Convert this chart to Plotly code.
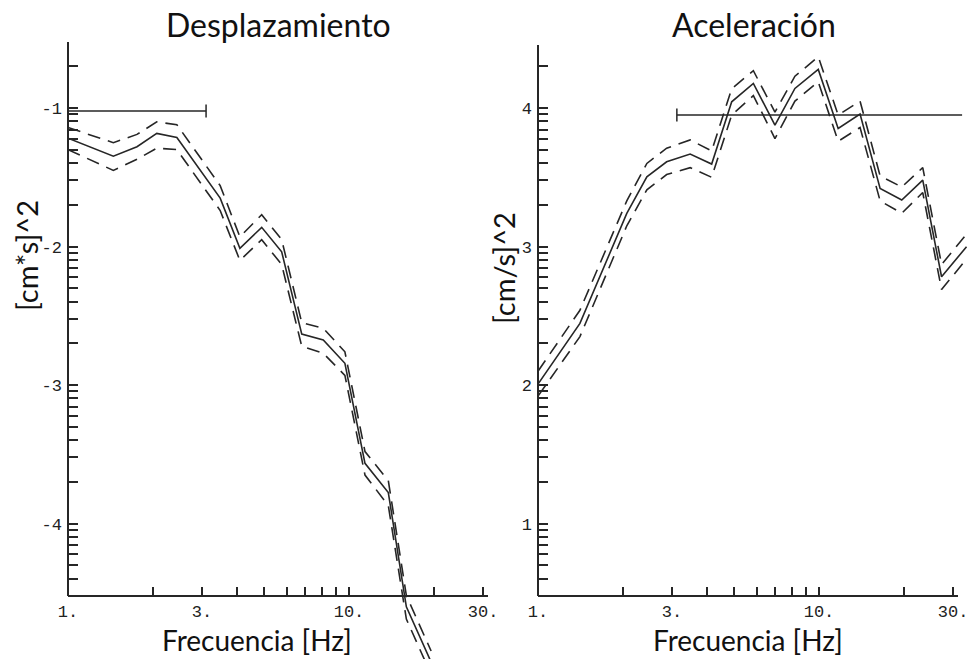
import plotly.graph_objects as go

W, H = 972, 659

# ---------------- data (log10 values, as labelled on the chart) ----------------
freq_disp = [1.0, 1.45, 1.76, 2.07, 2.44, 3.48, 4.09, 4.89, 5.76, 6.79, 8.10, 9.67, 11.4, 13.8, 16.0, 19.6]
disp_log = [-1.217, -1.347, -1.279, -1.183, -1.212, -1.650, -2.013, -1.861, -2.038, -2.632, -2.675, -2.843,
            -3.565, -3.776, -4.601, -5.000]
disp_log_hi = [-1.14, -1.25, -1.19, -1.10, -1.12, -1.56, -1.93, -1.77, -1.95, -2.55, -2.59, -2.76,
               -3.48, -3.69, -4.52, -4.92]
disp_log_lo = [-1.30, -1.45, -1.37, -1.29, -1.30, -1.74, -2.10, -1.95, -2.13, -2.72, -2.77, -2.93,
               -3.65, -3.87, -4.69, -5.09]

freq_acc = [1.0, 1.41, 2.07, 2.44, 2.87, 3.48, 4.15, 4.89, 5.84, 6.97, 8.21, 9.94, 11.7, 14.0, 16.5,
            19.7, 23.4, 27.3, 33.5]
acc_log = [2.007, 2.445, 3.240, 3.504, 3.612, 3.668, 3.596, 4.045, 4.178, 3.877, 4.142, 4.279, 3.853,
           3.957, 3.420, 3.336, 3.480, 2.782, 2.999]
acc_log_hi = [2.10, 2.54, 3.33, 3.60, 3.71, 3.77, 3.69, 4.14, 4.27, 3.97, 4.23, 4.37, 3.95, 4.05, 3.51,
              3.43, 3.57, 2.87, 3.09]
acc_log_lo = [1.92, 2.35, 3.15, 3.41, 3.52, 3.57, 3.50, 3.95, 4.09, 3.78, 4.05, 4.19, 3.76, 3.86, 3.33,
              3.24, 3.39, 2.69, 2.91]

disp_ref_f = [1.0, 3.1]
disp_ref_level = -1.022
acc_ref_f = [3.12, 32.3]
acc_ref_level = 3.95

x_tick_vals = [1, 2, 3, 4, 5, 6, 7, 8, 9, 10, 20, 30]
x_tick_text = ["1.", "", "3.", "", "", "", "", "", "", "10.", "", "30."]

disp_decades = [-5, -4, -3, -2, -1]
acc_decades = [0, 1, 2, 3, 4]

# ---------------- styling ----------------
INK = "#262626"
MONO = "Liberation Mono"
SANS = "Lato"
DASH = "13px,8px"


def p10(vals):
    return [10 ** v for v in vals]


def yticks(decades, lo, hi):
    vals, text = [], []
    for k in decades:
        for m in range(1, 10):
            v = m * 10 ** k
            if lo < v < hi:
                vals.append(v)
                text.append(str(k) if m == 1 else "")
    return vals, text


fig = go.Figure()

# displacement panel
for ys, dash in [(disp_log_hi, DASH), (disp_log_lo, DASH), (disp_log, "solid")]:
    fig.add_trace(go.Scatter(x=freq_disp, y=p10(ys), mode="lines",
                             line=dict(color=INK, width=1.6, dash=dash),
                             xaxis="x", yaxis="y", showlegend=False))
fig.add_trace(go.Scatter(x=disp_ref_f, y=[10 ** disp_ref_level] * 2, mode="lines",
                         line=dict(color=INK, width=1.5), xaxis="x", yaxis="y", showlegend=False))
fig.add_trace(go.Scatter(x=[disp_ref_f[1]] * 2,
                         y=[10 ** (disp_ref_level - 0.047), 10 ** (disp_ref_level + 0.047)],
                         mode="lines", line=dict(color=INK, width=1.5), xaxis="x", yaxis="y",
                         showlegend=False))

# acceleration panel
for ys, dash in [(acc_log_hi, DASH), (acc_log_lo, DASH), (acc_log, "solid")]:
    fig.add_trace(go.Scatter(x=freq_acc, y=p10(ys), mode="lines",
                             line=dict(color=INK, width=1.6, dash=dash),
                             xaxis="x2", yaxis="y2", showlegend=False))
fig.add_trace(go.Scatter(x=acc_ref_f, y=[10 ** acc_ref_level] * 2, mode="lines",
                         line=dict(color=INK, width=1.5), xaxis="x2", yaxis="y2", showlegend=False))
fig.add_trace(go.Scatter(x=[acc_ref_f[0]] * 2,
                         y=[10 ** (acc_ref_level - 0.047), 10 ** (acc_ref_level + 0.047)],
                         mode="lines", line=dict(color=INK, width=1.5), xaxis="x2", yaxis="y2",
                         showlegend=False))

# ---------------- axes ----------------
y_top_px, x_axis_px = 42, 596
ydom = [0, 1 - y_top_px / H]
xpos = 1 - x_axis_px / H
pix_per_dec = (x_axis_px - y_top_px) / 4.0
ext = (H - x_axis_px) / pix_per_dec

xcommon = dict(type="log", anchor="free", position=xpos, ticks="inside", ticklen=9, tickwidth=1.6,
               tickcolor=INK, tickvals=x_tick_vals, ticktext=x_tick_text,
               tickfont=dict(family=MONO, size=17, color="#222"), showgrid=False, zeroline=False,
               showline=False, ticklabelstandoff=3)
ycommon = dict(type="log", domain=ydom, ticks="inside", ticklen=10, tickwidth=1.6, tickcolor=INK,
               tickfont=dict(family=MONO, size=17, color="#222"), showgrid=False, zeroline=False,
               showline=False, ticklabelstandoff=5)

dpd = 281.0  # pixels per decade along x
yv1, yt1 = yticks(disp_decades, 10 ** -4.53, 10 ** -0.52)
yv2, yt2 = yticks(acc_decades, 10 ** 0.47, 10 ** 4.48)

fig.update_layout(
    width=W, height=H, paper_bgcolor="white", plot_bgcolor="white",
    margin=dict(l=0, r=0, t=0, b=0, autoexpand=False),
    xaxis=dict(domain=[68 / W, 488 / W], range=[0, 420 / dpd], **xcommon),
    yaxis=dict(anchor="x", range=[-4.523 - ext, -0.523], tickvals=yv1, ticktext=yt1, **ycommon),
    xaxis2=dict(domain=[538 / W, 1], range=[0, 434 / dpd], **xcommon),
    yaxis2=dict(anchor="x2", range=[0.477 - ext, 4.477], tickvals=yv2, ticktext=yt2, **ycommon),
)


# axis lines (paper coords)
def pl(x0, y0, x1, y1):
    fig.add_shape(type="line", xref="paper", yref="paper", x0=x0 / W, x1=x1 / W,
                  y0=1 - y0 / H, y1=1 - y1 / H, line=dict(color=INK, width=2))


pl(68, 42, 68, 596)
pl(68, 596, 488, 596)
pl(538, 45, 538, 596)
pl(538, 596, 958, 596)


# titles
def ann(text, x, y, size, angle=0, yanchor="middle"):
    fig.add_annotation(text=text, x=x / W, y=1 - y / H, xref="paper", yref="paper",
                       showarrow=False, textangle=angle, xanchor="center", yanchor=yanchor,
                       font=dict(family=SANS, size=size, color="#111"))


ann("Desplazamiento", 278, 25, 32)
ann("Aceleración", 754, 25, 32)
ann("Frecuencia [Hz]", 257, 659, 28, yanchor="bottom")
ann("Frecuencia [Hz]", 748, 659, 28, yanchor="bottom")
ann("[cm*s]^2", 26, 256, 29, -90)
ann("[cm/s]^2", 503, 268, 29, -90)

fig.write_html("out.html", config={"displayModeBar": False},
               post_script="document.body.style.margin='0px';")
